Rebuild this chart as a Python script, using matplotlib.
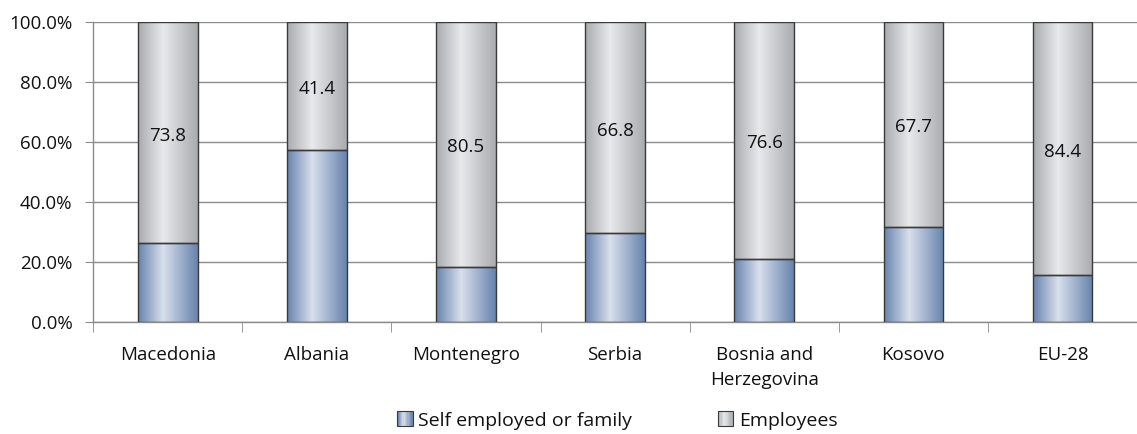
import numpy as np
import matplotlib
matplotlib.use('agg')
import matplotlib.pyplot as plt
from matplotlib.colors import LinearSegmentedColormap
from matplotlib.legend_handler import HandlerBase
from matplotlib.patches import Rectangle, Patch
from matplotlib.ticker import FuncFormatter, FixedLocator

# Data
countries = ['Macedonia', 'Albania', 'Montenegro', 'Serbia',
             'Bosnia and\nHerzegovina', 'Kosovo', 'EU-28']
self_employed = [26.2, 55.6, 18.2, 28.1, 20.5, 31.6, 15.6]
employees = [73.8, 41.4, 80.5, 66.8, 76.6, 67.7, 84.4]
series_names = ['Self employed or family', 'Employees']

plt.rcParams['font.family'] = ['Open Sans', 'DejaVu Sans']
FS = 13.5

# Horizontal gradients like the original "cylinder" fills
blue_cmap = LinearSegmentedColormap.from_list(
    'blue', [(0.0, '#6783ad'), (0.42, '#d9dfec'), (1.0, '#6783ad')])
gray_cmap = LinearSegmentedColormap.from_list(
    'gray', [(0.0, '#a9abaf'), (0.42, '#e8e9eb'), (1.0, '#a9abaf')])

total = np.array(self_employed) + np.array(employees)
self_share = np.array(self_employed) / total * 100
emp_share = np.array(employees) / total * 100

fig = plt.figure(figsize=(11.37, 4.34), dpi=100)
ax = fig.add_axes([0.082, 0.258, 0.918, 0.691])

x = np.arange(len(countries))
width = 0.4
grad = np.linspace(0, 1, 256).reshape(1, -1)

bars_self = ax.bar(x, self_share, width, facecolor='none', edgecolor='#3a3a3a',
                   linewidth=1.0, zorder=3)
bars_emp = ax.bar(x, emp_share, width, bottom=self_share, facecolor='none',
                  edgecolor='#3a3a3a', linewidth=1.0, zorder=3)

for bars, cmap in [(bars_self, blue_cmap), (bars_emp, gray_cmap)]:
    for b in bars:
        x0, y0 = b.get_x(), b.get_y()
        ax.imshow(grad, cmap=cmap, aspect='auto', zorder=2,
                  extent=[x0, x0 + b.get_width(), y0, y0 + b.get_height()])

# value labels sit slightly below the middle of the Employees segment
for b, val in zip(bars_emp, employees):
    ax.text(b.get_x() + b.get_width() / 2, b.get_y() + b.get_height() / 2 - 1.0,
            f'{val:.1f}', ha='center', va='center', fontsize=FS,
            color='#111111', zorder=4)

ax.set_xlim(-0.5, len(countries) - 0.5)
ax.set_ylim(0, 100)
ax.set_yticks(np.arange(0, 101, 20))
ax.yaxis.set_major_formatter(FuncFormatter(lambda v, p: f'{v:.1f}%'))
ax.grid(axis='y', color='#8a8a8a', linewidth=1.0, zorder=1)
ax.set_axisbelow(True)

ax.set_xticks(x)
ax.set_xticklabels(countries, fontsize=FS, linespacing=1.55, color='#111111')
ax.xaxis.set_minor_locator(FixedLocator(np.arange(-0.5, len(countries), 1.0)))
ax.tick_params(axis='x', which='major', length=0, pad=17)
ax.tick_params(axis='x', which='minor', length=7, color='#8a8a8a', direction='out')
ax.tick_params(axis='y', length=6, color='#8a8a8a', labelsize=FS, pad=9,
               labelcolor='#111111')

for s in ['top', 'right']:
    ax.spines[s].set_visible(False)
for s in ['left', 'bottom']:
    ax.spines[s].set_color('#8a8a8a')
    ax.spines[s].set_linewidth(1.0)


class GradientHandler(HandlerBase):
    def __init__(self, cmap):
        super().__init__()
        self.cmap = cmap

    def create_artists(self, legend, orig_handle, xdescent, ydescent,
                       width, height, fontsize, trans):
        artists = []
        n = 12
        for i in range(n):
            artists.append(Rectangle((-xdescent + width * i / n, -ydescent),
                                     width / n, height,
                                     facecolor=self.cmap((i + 0.5) / n),
                                     edgecolor='none', transform=trans))
        artists.append(Rectangle((-xdescent, -ydescent), width, height,
                                 facecolor='none', edgecolor='#3a3a3a',
                                 linewidth=0.8, transform=trans))
        return artists


h_self = Patch(label=series_names[0])
h_emp = Patch(label=series_names[1])
leg = fig.legend(handles=[h_self, h_emp], loc='lower center',
                 bbox_to_anchor=(0.543, -0.03), ncol=2, frameon=False,
                 fontsize=14, handlelength=0.78, handleheight=0.78,
                 handletextpad=0.3, columnspacing=4.4,
                 handler_map={h_self: GradientHandler(blue_cmap),
                              h_emp: GradientHandler(gray_cmap)})
for t in leg.get_texts():
    t.set_color('#111111')

fig.savefig('out.png', dpi=100)
